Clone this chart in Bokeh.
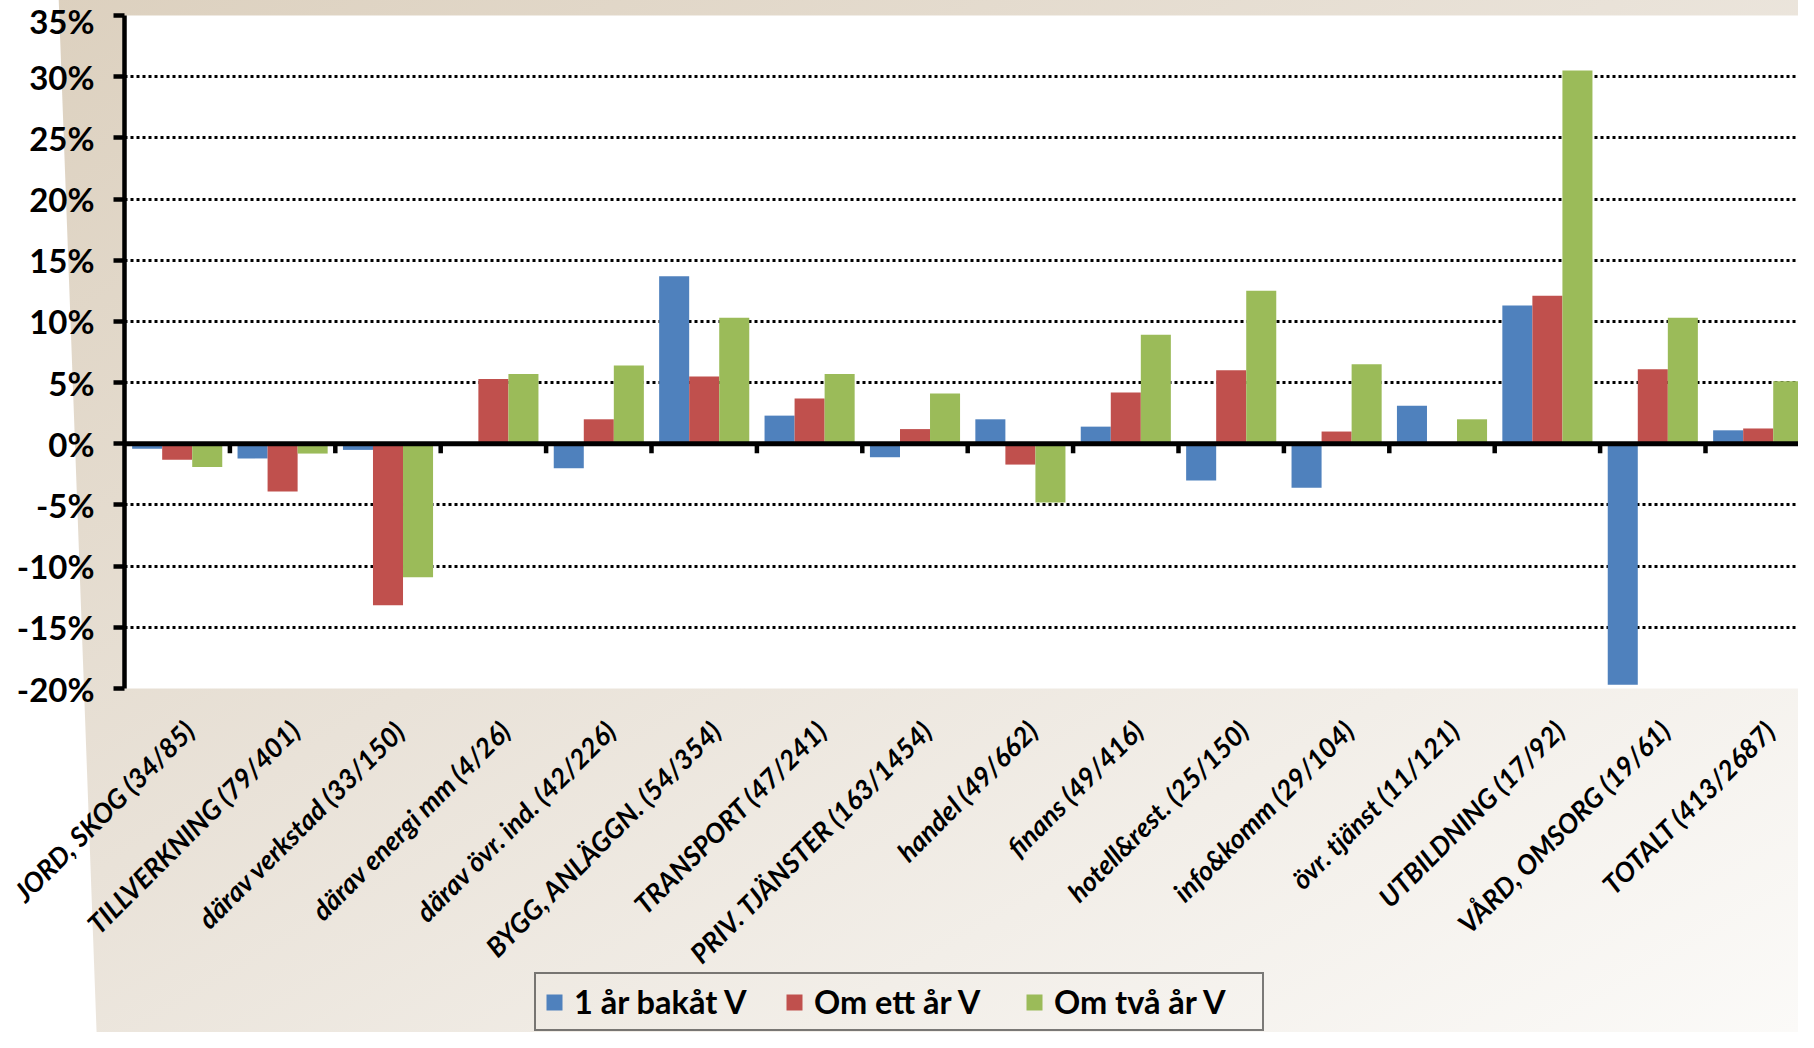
import math
from bokeh.plotting import figure
from bokeh.layouts import column
from bokeh.models import (ColumnDataSource, Range1d, FixedTicker, Span, Legend,
                          LegendItem, PrintfTickFormatter)
from bokeh.core.properties import value
from bokeh.embed import file_html
from bokeh.resources import INLINE

# ---------------- data ----------------
categories = [
    "JORD, SKOG (34/85)", "TILLVERKNING (79/401)", "därav verkstad (33/150)",
    "därav energi mm (4/26)", "därav övr. ind. (42/226)", "BYGG, ANLÄGGN. (54/354)",
    "TRANSPORT (47/241)", "PRIV. TJÄNSTER (163/1454)", "handel (49/662)",
    "finans (49/416)", "hotell&rest. (25/150)", "info&komm (29/104)",
    "övr. tjänst (11/121)", "UTBILDNING (17/92)", "VÅRD, OMSORG (19/61)",
    "TOTALT (413/2687)",
]
series_names = ["1 år bakåt V", "Om ett år V", "Om två år V"]
ar_bakat = [-0.4, -1.2, -0.5, 0.0, -2.0, 13.7, 2.3, -1.1, 2.0, 1.4, -3.0, -3.6, 3.1, 11.3, -19.7, 1.1]
om_ett_ar = [-1.3, -3.9, -13.2, 5.3, 2.0, 5.5, 3.7, 1.2, -1.7, 4.2, 6.0, 1.0, 0.15, 12.1, 6.1, 1.25]
om_tva_ar = [-1.9, -0.8, -10.9, 5.7, 6.4, 10.3, 5.7, 4.1, -4.8, 8.9, 12.5, 6.5, 2.0, 30.5, 10.3, 5.1]
y_ticks = [-20, -15, -10, -5, 0, 5, 10, 15, 20, 25, 30, 35]

# ---------------- style / layout ----------------
FONT = "Lato"
COLORS = ["#4F81BD", "#C0504D", "#9BBB59"]
W, H_TOTAL = 1798, 1032
LEFT, TOP, FRAME_H, PB = 124, 15, 673, 20
H_MAIN = TOP + FRAME_H + PB
H_LOW = H_TOTAL - H_MAIN
CAT_PX = 105.4
BAR_W = 0.285
LABEL_DX, LABEL_DY = 12, 17          # px: label anchor offset from category centre / strip top
n = len(categories)
x_end = (W - LEFT) / CAT_PX
px_per_unit = FRAME_H / (y_ticks[-1] - y_ticks[0])

p = figure(width=W, height=H_MAIN, output_backend="svg", toolbar_location=None,
           x_range=Range1d(0, x_end), y_range=Range1d(y_ticks[0], y_ticks[-1]),
           x_axis_type=None, frame_align=False,
           min_border_left=LEFT, min_border_top=TOP, min_border_bottom=PB,
           min_border_right=0)
p.background_fill_color = "white"
p.border_fill_color = None
p.outline_line_color = None

centers = [i + 0.5 for i in range(n)]
series = [ar_bakat, om_ett_ar, om_tva_ar]
offsets = [-BAR_W, 0.0, BAR_W]
for vals, off, col in zip(series, offsets, COLORS):
    src = ColumnDataSource(dict(x=[c + off for c in centers], top=vals))
    p.vbar(x="x", top="top", bottom=0, width=BAR_W, source=src,
           fill_color=col, line_color=None)

# zero line (category axis) with tick marks at category boundaries
p.add_layout(Span(location=0, dimension="width", line_color="black", line_width=5))
bounds = list(range(1, n))
tick_len = 9.5 / px_per_unit
p.segment(x0=bounds, y0=[0] * len(bounds), x1=bounds, y1=[-tick_len] * len(bounds),
          line_color="black", line_width=4.5)

# grid
p.ygrid.ticker = FixedTicker(ticks=y_ticks)
p.ygrid.grid_line_color = "black"
p.ygrid.grid_line_width = 3.2
p.ygrid.grid_line_dash = "3 3"

# y axis
p.yaxis.ticker = FixedTicker(ticks=y_ticks)
p.yaxis.formatter = PrintfTickFormatter(format="%d%%")
p.yaxis.axis_line_width = 4.5
p.yaxis.axis_line_color = "black"
p.yaxis.major_tick_line_width = 4.5
p.yaxis.major_tick_line_color = "black"
p.yaxis.major_tick_out = 11
p.yaxis.major_tick_in = 0
p.yaxis.minor_tick_line_color = None
p.yaxis.major_label_standoff = 19
p.yaxis.major_label_text_font = FONT
p.yaxis.major_label_text_font_size = "33px"
p.yaxis.major_label_text_font_style = "bold"
p.yaxis.major_label_text_color = "black"

# lower strip: rotated category labels + legend (same x scale as the chart)
pl = figure(width=W, height=H_LOW, output_backend="svg", toolbar_location=None,
            x_range=Range1d(-LEFT / CAT_PX, x_end), y_range=Range1d(-H_LOW, 0),
            x_axis_type=None, y_axis_type=None, frame_align=False,
            min_border_left=0, min_border_right=0, min_border_top=0, min_border_bottom=0)
pl.background_fill_color = None
pl.border_fill_color = None
pl.outline_line_color = None
pl.xgrid.visible = False
pl.ygrid.visible = False

lab_src = ColumnDataSource(dict(x=[c + LABEL_DX / CAT_PX for c in centers],
                                y=[-LABEL_DY] * n, text=categories))
pl.text(x="x", y="y", text="text", source=lab_src, angle=math.pi / 4,
        text_align="right", text_baseline="middle",
        text_font=value(FONT), text_font_size="27px",
        text_font_style="bold italic", text_color="black")

# legend proxies: real series, zero width so nothing is drawn in the strip
leg_renderers = [pl.vbar(x=centers, top=vals, bottom=0, width=0, fill_color=c, line_color=None)
                 for vals, c in zip(series, COLORS)]
items = [LegendItem(label=name, renderers=[r]) for name, r in zip(series_names, leg_renderers)]
legend = Legend(items=items, orientation="horizontal", location="bottom_center", margin=1,
                border_line_color="black", border_line_width=2.5,
                background_fill_color=None, padding=8, spacing=10, label_width=200,
                glyph_width=20, glyph_height=20, label_standoff=10,
                label_text_font=FONT, label_text_font_size="32.5px",
                label_text_font_style="bold", label_text_color="black")
pl.add_layout(legend)

layout = column(p, pl, spacing=0,
                styles={"background": "linear-gradient(87.9deg, #ffffff 0px, #ffffff 96px, rgba(255,255,255,0) 97px),"
                                      "linear-gradient(to bottom right, #dcd0be 0%, #e9e2d8 45%, #fbfaf8 100%)"})

open("out.html", "w").write(file_html(layout, INLINE))
